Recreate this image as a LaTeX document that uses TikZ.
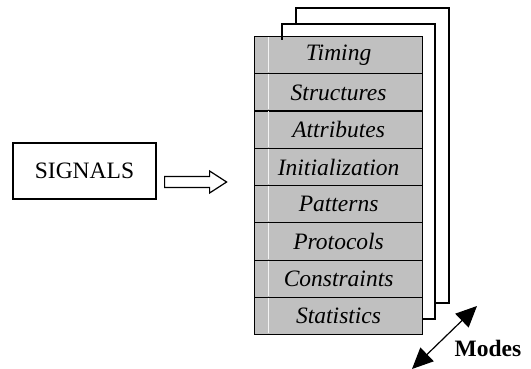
\documentclass[tikz,border=0pt]{standalone}
\usepackage{fontspec}
\setmainfont{Liberation Serif}
\usetikzlibrary{arrows.meta}
\definecolor{rowgray}{HTML}{C0C0C0}
\tikzset{
  rowbox/.style={draw=black, line width=1.2pt, fill=rowgray, minimum width=168pt, minimum height=37.25pt, inner sep=0pt, anchor=north west},
  rowtext/.style={font=\fontsize{23.5}{27}\selectfont\itshape},
  page/.style={draw=black, line width=1.3pt},
}
\begin{document}
\begin{tikzpicture}[x=1pt,y=-1pt]
\useasboundingbox (0,0) rectangle (531,369);
% back pages
\draw[page] (296,24) -- (296,8) -- (449,8) -- (449,303) -- (435,303);
\draw[page] (282,40) -- (282,24) -- (435,24) -- (435,319) -- (422,319);
% rows
\foreach \t [count=\i from 0] in {Timing,Structures,Attributes,Initialization,Patterns,Protocols,Constraints,Statistics}{
  \node[rowbox] (r\i) at (254,{36+37.25*\i}) {};
  \draw[white!80!rowgray, line width=0.8pt] ({268},{36+37.25*\i+1}) -- ({268},{36+37.25*(\i+1)-1});
  \node[rowtext] (t\i) at (r\i.center) {\t};
}
\draw[page] (282,24) -- (282,40);
% signals
\node[draw=black, line width=1.2pt, minimum width=143pt, minimum height=56pt, inner sep=0pt, font=\fontsize{23.5}{27}\selectfont] (sig) at (84.5,171) {SIGNALS};
% hollow arrow
\coordinate (a0) at ([xshift=8pt]sig.east);
\draw[line width=1.2pt, fill=white, line join=miter]
  ([yshift=-5.5pt]a0) -- ++(45,0) -- ++(0,-5.5) -- ++(17,11) -- ++(-17,11) -- ++(0,-5.5) -- ++(-45,0) -- cycle;
% modes
\coordinate (m1) at (412,369);
\coordinate (m2) at (477,306);
\draw[line width=1.2pt, {Triangle[length=21pt,width=19pt]}-{Triangle[length=21pt,width=19pt]}] (m1) -- (m2);
\node[font=\fontsize{23.5}{27}\selectfont\bfseries] (modes) at (488,348) {Modes};
\end{tikzpicture}
\end{document}
